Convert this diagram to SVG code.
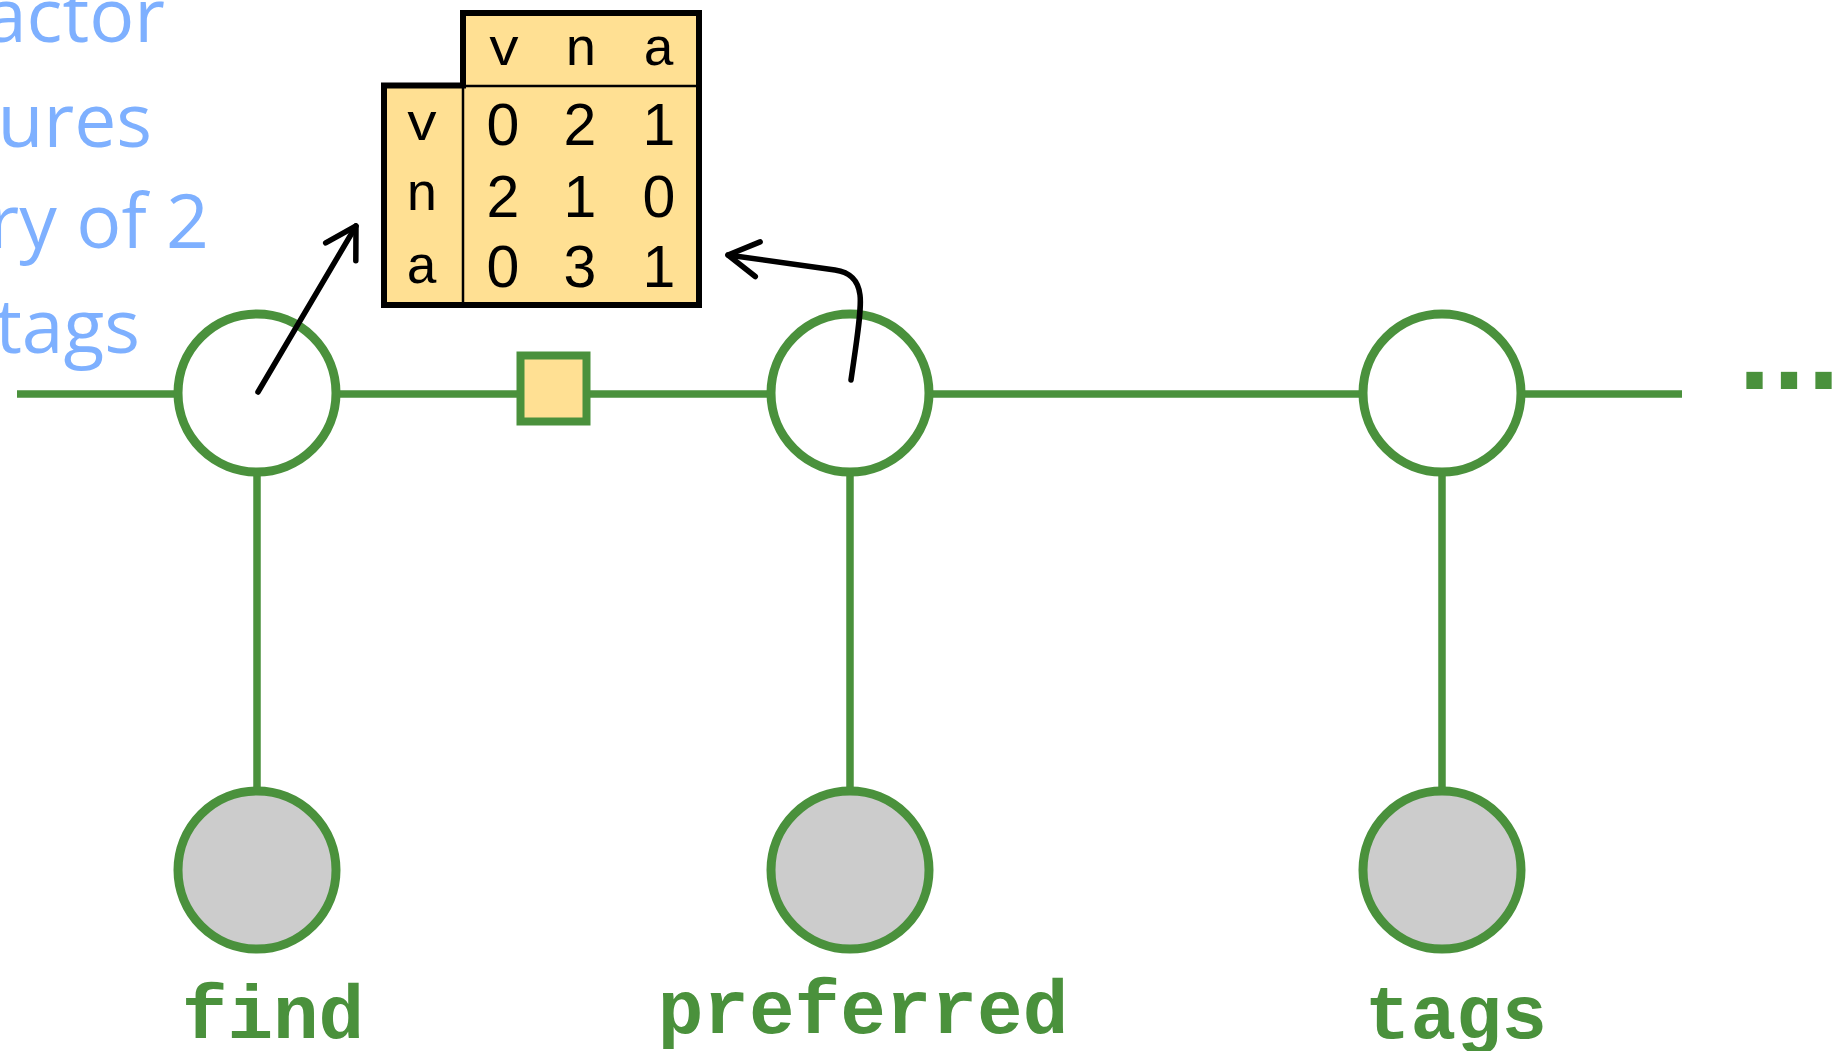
<svg xmlns="http://www.w3.org/2000/svg" width="1840" height="1051" viewBox="0 0 1840 1051">
<style>
.edge{stroke:#4A913C;stroke-width:7.5;fill:none}
.var{fill:#ffffff;stroke:#4A913C;stroke-width:9}
.obs{fill:#cccccc;stroke:#4A913C;stroke-width:9}
.fac{fill:#FFE093;stroke:#4A913C;stroke-width:8}
.lbl{font-family:"Liberation Mono","Courier New",monospace;font-weight:bold;font-size:76px;fill:#4A913C;text-anchor:middle}
.note{font-family:"Open Sans","DejaVu Sans",sans-serif;font-size:75px;fill:#7EB0FF;text-anchor:end}
.hdr{font-family:"Liberation Mono","Courier New",monospace;font-size:54px;fill:#000;text-anchor:middle}
.num{font-family:"Liberation Sans",Arial,sans-serif;font-size:59px;fill:#000;text-anchor:middle}
.arrow{stroke:#000;stroke-width:5.5;fill:none;stroke-linecap:round;stroke-linejoin:round}
</style>
<defs>
<marker id="head" markerUnits="userSpaceOnUse" viewBox="-40 -25 50 50" markerWidth="50" markerHeight="50" refX="0" refY="0" orient="auto">
<path d="M -30 -17.5 L 0 0 L -30 17.5" fill="none" stroke="#000" stroke-width="5.5" stroke-linecap="round" stroke-linejoin="round"/>
</marker>
</defs>
<g id="note">
<text class="note" x="165" y="42">actor</text>
<text class="note" x="152" y="147">ures</text>
<text class="note" x="209" y="248">ry of 2</text>
<text class="note" x="140" y="353">tags</text>
</g>
<g id="connectors">
<line class="edge" x1="17" y1="394" x2="180" y2="394"/>
<line class="edge" x1="334" y1="394" x2="520" y2="394"/>
<line class="edge" x1="587" y1="394" x2="773" y2="394"/>
<line class="edge" x1="927" y1="394" x2="1365" y2="394"/>
<line class="edge" x1="1519" y1="394" x2="1682" y2="394"/>
<line class="edge" x1="257" y1="473" x2="257" y2="791"/>
<line class="edge" x1="850" y1="473" x2="850" y2="791"/>
<line class="edge" x1="1442" y1="473" x2="1442" y2="791"/>
</g>
<g id="factor"><rect class="fac" x="520.5" y="355.5" width="66" height="66"/></g>
<g id="var1"><circle class="var" cx="257" cy="393" r="79"/></g>
<g id="var2"><circle class="var" cx="850" cy="393" r="79"/></g>
<g id="var3"><circle class="var" cx="1442" cy="393" r="79"/></g>
<g id="obs1"><circle class="obs" cx="257" cy="870" r="79"/><text class="lbl" x="273" y="1038">find</text></g>
<g id="obs2"><circle class="obs" cx="850" cy="870" r="79"/><text class="lbl" x="863" y="1033">preferred</text></g>
<g id="obs3"><circle class="obs" cx="1442" cy="870" r="79"/><text class="lbl" x="1456" y="1038">tags</text></g>
<g id="ellipsis"><text x="1720" y="389" font-family="'Liberation Mono','Courier New',monospace" font-weight="bold" font-size="115" letter-spacing="-34.5" fill="#4A913C">...</text></g>
<g id="table">
<path d="M 463 13 L 699 13 L 699 305 L 384 305 L 384 85.5 L 463 85.5 Z" fill="#FFE093" stroke="#000" stroke-width="6" stroke-linejoin="miter"/>
<line x1="463" y1="86" x2="699" y2="86" stroke="#000" stroke-width="2.5"/>
<line x1="463" y1="86" x2="463" y2="305" stroke="#000" stroke-width="2.5"/>
<text class="hdr" x="504" y="65">v</text>
<text class="hdr" x="581" y="65">n</text>
<text class="hdr" x="659" y="65">a</text>
<text class="hdr" x="422" y="140">v</text>
<text class="hdr" x="422" y="210">n</text>
<text class="hdr" x="422" y="283">a</text>
<text class="num" x="503" y="145">0</text>
<text class="num" x="580" y="145">2</text>
<text class="num" x="659" y="145">1</text>
<text class="num" x="503" y="217">2</text>
<text class="num" x="580" y="217">1</text>
<text class="num" x="659" y="217">0</text>
<text class="num" x="503" y="287">0</text>
<text class="num" x="580" y="287">3</text>
<text class="num" x="659" y="287">1</text>
</g>
<g id="pointers">
<line class="arrow" x1="258" y1="392" x2="356" y2="226" marker-end="url(#head)"/>
<path class="arrow" d="M 851 380 C 856 345, 862 310, 860 295 C 858 278, 848 272, 835 270 L 728 255" marker-end="url(#head)"/>
</g>
</svg>
